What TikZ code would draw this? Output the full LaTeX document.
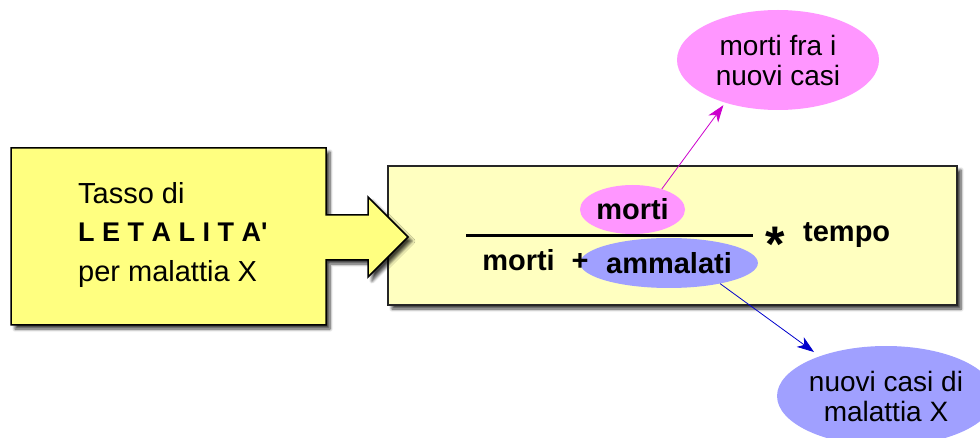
\documentclass[tikz,border=0pt]{standalone}
\usepackage{fontspec}
\setmainfont{Liberation Sans}
\usetikzlibrary{shapes.geometric,arrows.meta,shadows.blur}

\definecolor{boxyellow}{RGB}{255,255,128}
\definecolor{paleyellow}{RGB}{255,255,192}
\definecolor{pinkfill}{RGB}{255,150,255}
\definecolor{bluefill}{RGB}{160,160,255}
\definecolor{magline}{RGB}{204,0,204}
\definecolor{blueline}{RGB}{0,0,204}

\begin{document}
\begin{tikzpicture}[x=1pt,y=-1pt,
  softshadow/.style={blur shadow={shadow xshift=4pt,shadow yshift=-4pt,
      shadow blur steps=6,shadow opacity=75,shadow blur radius=3pt}},
  bubble/.style={ellipse,inner sep=0pt},
  eqtext/.style={font=\fontsize{29}{32}\selectfont\bfseries},
  notetext/.style={font=\fontsize{28}{30}\selectfont,align=center},
  boxtext/.style={anchor=base west,inner sep=0pt},
  link/.style={line width=0.8pt,shorten >=3pt,
      -{Stealth[length=17pt,width=12pt,inset=5pt]}},
]
\useasboundingbox (0,0) rectangle (980,438);

% right panel holding the formula
\node[draw=black!85,line width=1.5pt,fill=paleyellow,softshadow,
      minimum width=569pt,minimum height=139pt,inner sep=0pt] (panel) at (672.5,235.5) {};

% left box merged with its block arrow
\path[draw=black,line width=1.5pt,fill=boxyellow,softshadow]
  (11,148) -- (326,148) -- (326,215) -- (368,215) -- (368,197) -- (408,237)
  -- (368,277) -- (368,260) -- (326,260) -- (326,325) -- (11,325) -- cycle;

\node[boxtext,font=\fontsize{29}{30}\selectfont] (l1) at (78,204) {Tasso di};
\node[boxtext,font=\fontsize{27}{30}\selectfont\bfseries] (l2) at (78,242) {L E T A L I T A\textquotesingle};
\node[boxtext,font=\fontsize{29}{30}\selectfont] (l3) at (78,282) {per malattia X};

% formula
\node[bubble,fill=pinkfill,minimum width=105pt,minimum height=49pt,eqtext] (num) at (632.5,209.5) {morti};
\node[bubble,fill=bluefill,minimum width=168pt,minimum height=50pt,eqtext] (den) at (669,263) {ammalati};
\node[eqtext,anchor=base,inner sep=0pt] (dm) at (518.5,271) {morti};
\node[eqtext,anchor=base,inner sep=0pt] (plus) at (580,271) {+};
\coordinate (fl) at (466,236);
\coordinate (fr) at (753,236);
\draw[line width=3pt] (fl) -- (fr);
\node[anchor=base,inner sep=0pt,font=\fontsize{50}{50}\selectfont\bfseries] (star) at (775.5,262) {*};
\node[eqtext,boxtext] (tempo) at (803,242) {tempo};

% explanatory bubbles
\node[bubble,fill=pinkfill,minimum width=202pt,minimum height=100pt,notetext] (dead) at (778,60) {morti fra i\\nuovi casi};
\node[bubble,fill=bluefill,minimum width=198pt,minimum height=100pt,notetext] (cases) at (886,396) {nuovi casi di\\malattia X};

% connectors
\draw[link,magline] (num.35) -- (dead.219);
\draw[link,blueline,shorten >=7pt] (den.-22) -- (cases.149);
\end{tikzpicture}
\end{document}
